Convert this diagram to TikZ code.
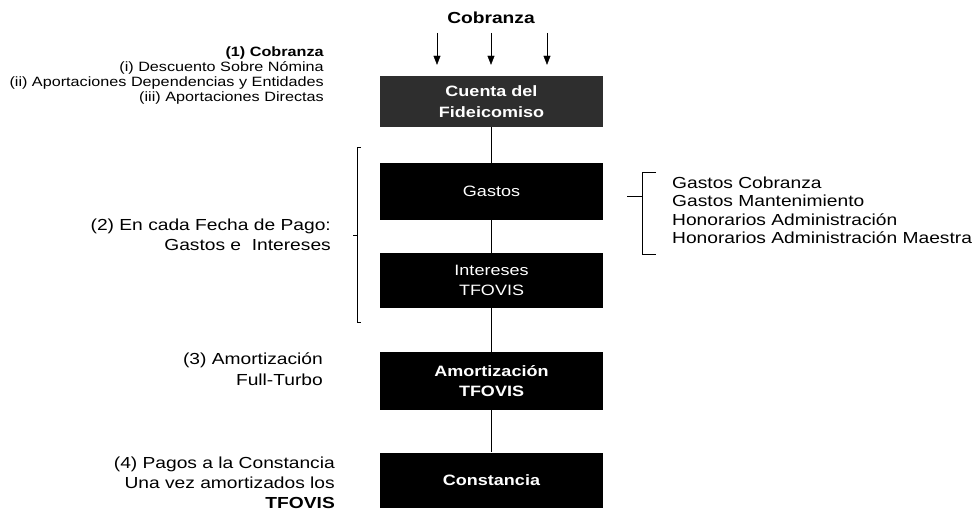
\documentclass[tikz,border=0pt]{standalone}
\usepackage{fontspec}
\setmainfont{Liberation Sans}[FakeStretch=1.2]
\usetikzlibrary{arrows.meta}
\definecolor{caja}{HTML}{2E2E2E}
\tikzset{ b/.style = { rectangle
                       , fill         = black
                       , text         = white
                       , inner sep    = 0pt
                       , minimum width  = 223pt
                       , minimum height = 55pt
                       , align        = center
                       , font         = \fontsize{15}{20}\selectfont
                       },
          lbl/.style = { inner sep    = 0pt
                       , align        = right
                       , anchor       = east
                       , font         = \fontsize{16}{20.5}\selectfont
                       },
          lst/.style = { inner sep    = 0pt
                       , align        = left
                       , anchor       = west
                       , font         = \fontsize{16}{18.5}\selectfont
                       },
          flecha/.style = { -{Triangle[length=9pt,width=7pt]}
                          , thin
                          , shorten > = 11pt
                          }
        }

\begin{document}
\begin{tikzpicture}[x=1pt, y=-1pt]
    \useasboundingbox (0,0) rectangle (972,513);
    % cajas del flujo
    \node[b, fill=caja, font=\bfseries\fontsize{15}{21}\selectfont,
          minimum height=51pt] (cuenta) at (491.5,101.5) {Cuenta del\\Fideicomiso};
    \node[b, minimum height=57pt] (gastos)    at (491.5,191.5) {Gastos};
    \node[b] (intereses) at (491.5,280.5) {Intereses\\TFOVIS};
    \node[b, font=\bfseries\fontsize{15}{20}\selectfont,
          minimum height=58pt] (amort) at (491.5,381) {Amortización\\TFOVIS};
    \node[b, font=\bfseries\fontsize{15}{20}\selectfont] (constancia) at (491.5,480) {Constancia};
    \path[draw=black, thin] (cuenta) edge (gastos)
                            (gastos) edge (intereses)
                            (intereses) edge (amort)
                            (amort) edge (constancia);
    % cobranza
    \node[inner sep=0pt, font=\bfseries\fontsize{16}{18}\selectfont] (cob) at (491,18) {Cobranza};
    \coordinate (f1) at (437,33);
    \coordinate (f2) at (491,33);
    \coordinate (f3) at (547,33);
    \draw[flecha] (f1) -- (f1 |- cuenta.north);
    \draw[flecha] (f2) -- (f2 |- cuenta.north);
    \draw[flecha] (f3) -- (f3 |- cuenta.north);
    % textos de la izquierda
    \node[lbl, font=\fontsize{13.5}{15}\selectfont] (t1) at (324,75.5)
        {\textbf{(1) Cobranza}\\(i) Descuento Sobre Nómina\\(ii) Aportaciones Dependencias y Entidades\\(iii) Aportaciones Directas};
    \node[lbl] (t2) at (331,235) {(2) En cada Fecha de Pago:\\Gastos e\ \ Intereses};
    \node[lbl] (t3) at (323,369) {(3) Amortización\\Full-Turbo};
    \node[lbl, font=\fontsize{16}{20}\selectfont] (t4) at (335,483)
        {(4) Pagos a la Constancia\\Una vez amortizados los\\\textbf{TFOVIS}};
    % corchete izquierdo
    \coordinate (ca) at (357,147);
    \coordinate (cb) at (357,322);
    \coordinate (cm) at (357,235);
    \draw[thin] ([xshift=4pt]ca) -- (ca) -- (cb) -- ([xshift=4pt]cb);
    \draw[thin] (cm) -- ([xshift=-4pt]cm);
    % llave derecha y gastos
    \coordinate (la) at (642,172);
    \coordinate (lb) at (642,254);
    \coordinate (lm) at (642,196);
    \draw[thin] ([xshift=14pt]la) -- (la) -- (lb) -- ([xshift=14pt]lb);
    \draw[thin] (lm) -- ([xshift=-15pt]lm);
    \node[lst] (lista) at (672,210.5)
        {Gastos Cobranza\\Gastos Mantenimiento\\Honorarios Administración\\Honorarios Administración Maestra};
\end{tikzpicture}
\end{document}
